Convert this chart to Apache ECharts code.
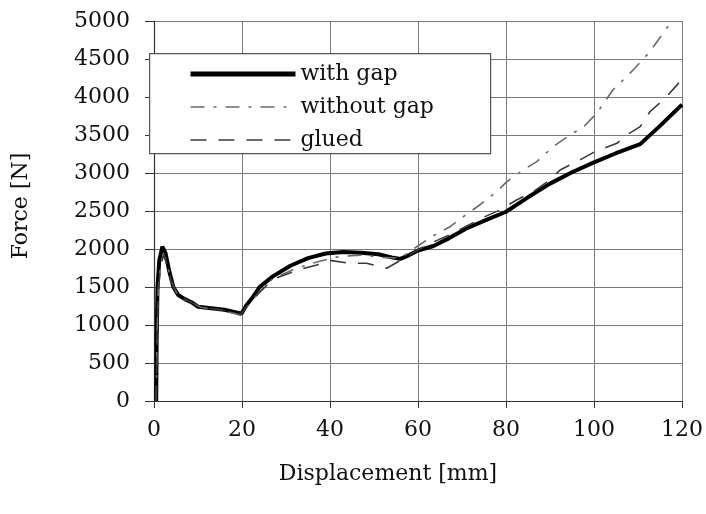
<!DOCTYPE html>
<html>
<head>
<meta charset="utf-8">
<script src="https://cdn.jsdelivr.net/npm/echarts@6/dist/echarts.min.js"></script>
<style>html,body{margin:0;padding:0;background:#fff}#c{width:706px;height:514px}</style>
</head>
<body>
<div id="c"></div>
<script>
const seriesNames = ['with gap', 'without gap', 'glued'];
const xTicks = [0, 20, 40, 60, 80, 100, 120];
const yTicks = [0, 500, 1000, 1500, 2000, 2500, 3000, 3500, 4000, 4500, 5000];

const withGap = [[0.5,0],[0.6,800],[0.8,1500],[1.2,1850],[1.9,2030],[2.6,1950],[3.5,1700],[4.4,1500],[5.5,1395],[7,1340],[8.5,1300],[10,1240],[13,1220],[16,1200],[19.9,1150],[21,1260],[22.5,1370],[24,1500],[27,1640],[31,1780],[35,1880],[39,1940],[43,1960],[47,1950],[51,1930],[54,1890],[56,1870],[58,1920],[60,1980],[63.5,2040],[67,2140],[71,2270],[75,2370],[80,2490],[85,2680],[90,2860],[95,3010],[100,3140],[105,3260],[110.5,3380],[115,3620],[120,3900]];

const withoutGap = [[0.5,0],[0.7,900],[1,1500],[1.5,1800],[2.2,1930],[3,1800],[4,1560],[5.5,1380],[8.5,1290],[10.8,1230],[15,1200],[19.8,1130],[21,1230],[24,1440],[27,1610],[32,1740],[37,1830],[42,1900],[47,1920],[52,1890],[56,1880],[59.7,2030],[63.5,2175],[67.3,2293],[70.3,2425],[74,2579],[77.9,2754],[80.2,2886],[83.9,3040],[87,3149],[90.7,3346],[94.5,3500],[97.5,3600],[100.6,3785],[104.3,4092],[108.9,4355],[112.7,4596],[116.5,4904],[117.5,4980]];

const glued = [[0.5,0],[0.7,900],[1,1450],[1.5,1780],[2.2,1920],[3,1780],[4,1550],[5.5,1380],[8.5,1300],[10.8,1235],[15,1200],[19.8,1140],[21,1240],[24,1430],[27,1600],[33,1730],[37,1790],[40,1850],[44.5,1812],[48.3,1812],[52.9,1746],[56,1850],[60,1990],[63,2080],[67,2180],[71,2300],[75,2420],[78.6,2513],[82.4,2645],[86.2,2754],[90,2910],[92.3,3040],[96.8,3171],[100.2,3280],[105.2,3390],[107.4,3500],[110.5,3610],[112.7,3806],[116.5,4004],[119.5,4200]];

const FONT = 'DejaVu Serif';
const chart = echarts.init(document.getElementById('c'), null, {renderer: 'canvas'});
chart.setOption({
  backgroundColor: '#fff',
  animation: false,
  grid: {left: 154, right: 24, top: 21, bottom: 113},
  graphic: [{
    type: 'rect', z: 1, left: 149, top: 53,
    shape: {width: 341, height: 100},
    style: {fill: '#fff', stroke: '#555', lineWidth: 1.2}
  }],
  legend: {
    orient: 'vertical', left: 149, top: 53, z: 3,
    padding: [10, 10, 10, 39],
    itemWidth: 105, itemHeight: 20, itemGap: 11,
    itemStyle: {opacity: 0},
    textStyle: {fontFamily: FONT, fontSize: 22, color: '#111'},
    data: [
      {name: seriesNames[0], lineStyle: {width: 5, color: '#000'}},
      {name: seriesNames[1], lineStyle: {width: 1.6}},
      {name: seriesNames[2], lineStyle: {width: 1.6}}
    ]
  },
  xAxis: {
    type: 'value', min: xTicks[0], max: xTicks[xTicks.length - 1], interval: 20,
    name: 'Displacement [mm]', nameLocation: 'middle', nameGap: 62,
    nameTextStyle: {fontFamily: FONT, fontSize: 22, color: '#111', padding: [0, 60, 0, 0]},
    axisLine: {show: true, lineStyle: {color: '#333', width: 1.2}},
    axisTick: {show: true, inside: false, length: 7, lineStyle: {color: '#333'}},
    axisLabel: {fontFamily: FONT, fontSize: 22, color: '#111', margin: 18, formatter: v => String(v)},
    splitLine: {show: true, lineStyle: {color: '#7a7a7a', width: 1}}
  },
  yAxis: {
    type: 'value', min: yTicks[0], max: yTicks[yTicks.length - 1], interval: 500,
    name: 'Force [N]', nameLocation: 'middle', nameGap: 122,
    nameTextStyle: {fontFamily: FONT, fontSize: 22, color: '#111', padding: [0, 0, 0, 10]},
    axisLine: {show: true, lineStyle: {color: '#333', width: 1.2}},
    axisTick: {show: true, inside: false, length: 9, lineStyle: {color: '#333'}},
    axisLabel: {fontFamily: FONT, fontSize: 22, color: '#111', margin: 24, formatter: v => String(v)},
    splitLine: {show: true, lineStyle: {color: '#7a7a7a', width: 1}}
  },
  series: [
    {name: seriesNames[0], type: 'line', data: withGap, showSymbol: false, symbol: 'none', z: 2,
     lineStyle: {color: '#000', width: 4, type: 'solid'}, itemStyle: {color: '#000'}},
    {name: seriesNames[1], type: 'line', data: withoutGap, showSymbol: false, symbol: 'none', z: 3,
     lineStyle: {color: '#6a6a6a', width: 1.6, type: [14, 9, 3, 9]}, itemStyle: {color: '#6a6a6a'}},
    {name: seriesNames[2], type: 'line', data: glued, showSymbol: false, symbol: 'none', z: 3,
     lineStyle: {color: '#3a3a3a', width: 1.6, type: [16, 12]}, itemStyle: {color: '#3a3a3a'}}
  ]
});
</script>
</body>
</html>
